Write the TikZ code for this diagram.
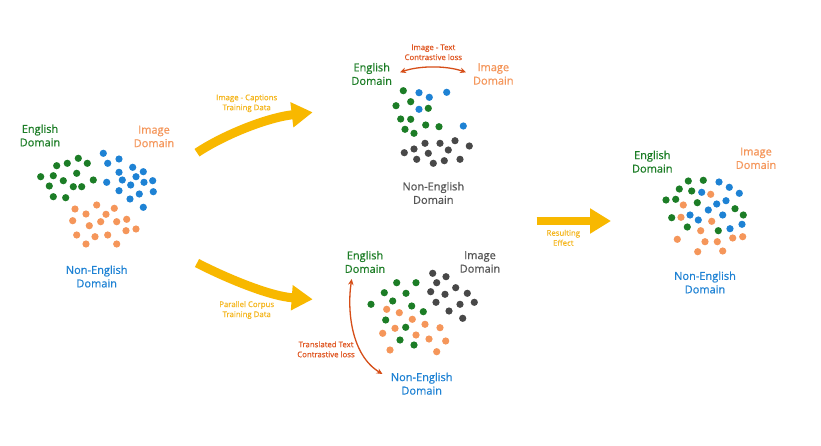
\documentclass[tikz,border=0pt]{standalone}
\usepackage{fontspec}
\setmainfont{Open Sans}[BoldFont={Open Sans},BoldFeatures={FakeBold=0.6}]
\usetikzlibrary{arrows.meta}
\definecolor{grn}{RGB}{28,125,38}
\definecolor{blu}{RGB}{30,130,212}
\definecolor{org}{RGB}{245,150,90}
\definecolor{gry}{RGB}{72,72,72}
\definecolor{gtx}{RGB}{85,85,85}
\definecolor{ylw}{RGB}{248,184,0}
\definecolor{ytx}{RGB}{245,182,30}
\definecolor{red}{RGB}{214,78,24}
\definecolor{rtx}{RGB}{224,88,36}
\tikzset{
  lbl/.style={align=center,inner sep=0pt,font=\fontsize{11}{13.5}\selectfont\bfseries},
  sml/.style={align=center,inner sep=0pt,font=\fontsize{7.8}{10}\selectfont\bfseries},
  bigarrow/.style={draw=ylw,line width=9pt,-{Triangle[length=21pt,width=24pt]}},
  redarrow/.style={draw=red,line width=1.3pt,{Stealth[length=6pt,width=5.5pt]}-{Stealth[length=6pt,width=5.5pt]}},
}
\begin{document}
\begin{tikzpicture}[x=1pt,y=-1pt]
\fill[white] (0,0) rectangle (821,446);
\useasboundingbox (0,0) rectangle (821,446);
\def\r{3.6pt}
% ---------------- left cluster
\foreach \x/\y in {78.3/158.3,67.3/163.3,56.7/165.7,87.3/163.3,40.7/176.7,53.3/175.7,76.7/173.3,63.3/180.7,49.3/186,73.3/186.7,81.7/186.7,93.3/180,53.3/196.7,65.7/197.7}
  \fill[grn] (\x,\y) circle[radius=\r];
\foreach \x/\y in {103.3/153.3,119/159,107.7/163.3,132.7/167.3,143.3/171.7,119/172.3,136/176.7,106.7/182.3,122.3/180,144/182.3,152.7/180.7,130.7/185,119/190.7,139.3/194,153.3/191.7,130/199,143.3/207.3}
  \fill[blu] (\x,\y) circle[radius=\r];
\foreach \x/\y in {96.7/205,75/209,114.3/208.3,86/214,106/214.3,72.7/220.7,100.7/221.7,116.7/221.7,126.7/219.3,89.3/225.7,126/230.7,136/229,76.7/235,95/236.7,107.7/235,86/244,116.7/244}
  \fill[org] (\x,\y) circle[radius=\r];
\node[lbl,text=grn] (l-en) at (40,135.5) {English\\Domain};
\node[lbl,text=org] (l-im) at (154,136.5) {Image\\Domain};
\node[lbl,text=blu] (l-ne) at (96.7,276.5) {Non-English\\Domain};
% ---------------- top cluster
\foreach \x/\y in {403.3/90.7,410.7/101.7,396/105.7,428.3/108.3,400.7/119,410.7/119.3,425.7/125,439/126.7,405/129.3,414/133.3}
  \fill[grn] (\x,\y) circle[radius=\r];
\foreach \x/\y in {419/92.7,429.3/97.3,446.7/92.3,419/109.3,463.3/126}
  \fill[blu] (\x,\y) circle[radius=\r];
\foreach \x/\y in {455/140.7,440/143.3,425/143.3,469.3/146,414/149,448.3/150,428.3/153.3,404.3/152.7,416.7/159.3,444.3/160.7,460/159.3,433.3/163.3}
  \fill[gry] (\x,\y) circle[radius=\r];
\node[lbl,text=grn] (t-en) at (371.7,74) {English\\Domain};
\node[lbl,text=org] (t-im) at (493.3,74) {Image\\Domain};
\node[lbl,text=gtx] (t-ne) at (433.3,193) {Non-English\\Domain};
\node[sml,text=rtx] (t-loss) at (433.3,52.3) {Image - Text\\Contrastive loss};
\coordinate (t-a) at (400,72.3);
\coordinate (t-b) at (466,72.3);
\draw[redarrow] (t-a) .. controls (420,65.5) and (446,65.5) .. (t-b);
% ---------------- bottom cluster
\foreach \x/\y in {396.7/282.7,416/282.7,384.3/292.7,406/293.3,392.7/301,371/304.3,411.7/306,423.3/311.7,385.7/320,405.7/327.3,400/340,414/345}
  \fill[grn] (\x,\y) circle[radius=\r];
\foreach \x/\y in {386.7/309.3,399.3/312.7,412.3/319.3,425/324.3,395/328.3,440/327.7,382.7/333.3,416/335,429/339,445.7/341,390/350,436.7/351.7}
  \fill[org] (\x,\y) circle[radius=\r];
\foreach \x/\y in {432.7/273.3,446/276.7,436.7/282.7,430.7/291.7,455.7/287.7,445/294.3,467.3/293.3,436/302.3,460/304.3,474.3/302.3,449/311,462.7/318.3}
  \fill[gry] (\x,\y) circle[radius=\r];
\node[lbl,text=grn] (b-en) at (365,262) {English\\Domain};
\node[lbl,text=gtx] (b-im) at (480,262) {Image\\Domain};
\node[lbl,text=blu] (b-ne) at (421.7,383.7) {Non-English\\Domain};
\node[sml,text=rtx] (b-loss) at (326,349.3) {Translated Text\\Contrastive loss};
\coordinate (b-a) at (351.7,279);
\coordinate (b-b) at (382.5,374);
\draw[redarrow] (b-a) .. controls (347,310) and (351,355) .. (b-b);
% ---------------- right cluster
\foreach \x/\y in {688.3/181,703.3/180.3,679.3/189,691.7/191,666/200,675.7/199.3,697.3/202.7,735/208.7,743.3/215,671.7/217.7,687.3/227,718.3/230.7}
  \fill[grn] (\x,\y) circle[radius=\r];
\foreach \x/\y in {719/182,729.3/187.3,739.3/193.3,701.7/192.3,726/200.7,716.7/204,708.3/210,722.7/215,690/215,698.3/220,730/228.7,742/224.3}
  \fill[blu] (\x,\y) circle[radius=\r];
\foreach \x/\y in {710.7/194.3,683.3/205,681/217.3,711.7/221.3,700.7/230.7,677.3/239.3,705/241.7,717.3/241.7,732.7/238,742.7/236.7,697.7/251.7,722.7/251}
  \fill[org] (\x,\y) circle[radius=\r];
\node[lbl,text=grn] (r-en) at (652.3,161.7) {English\\Domain};
\node[lbl,text=org] (r-im) at (756,158.3) {Image\\Domain};
\node[lbl,text=blu] (r-ne) at (705,282.5) {Non-English\\Domain};
% ---------------- yellow arrows
\coordinate (y1a) at (197,152.7);
\coordinate (y1b) at (312.7,112.3);
\draw[bigarrow] (y1a) .. controls (222,136) and (265,118) .. (y1b);
\node[sml,text=ytx] (y1l) at (246.7,103.3) {Image - Captions\\Training Data};
\coordinate (y2a) at (197,263);
\coordinate (y2b) at (312.7,299.3);
\draw[bigarrow] (y2a) .. controls (222,276) and (268,296) .. (y2b);
\node[sml,text=ytx] (y2l) at (246.7,310) {Parallel Corpus\\Training Data};
\coordinate (y3a) at (536.7,221);
\coordinate (y3b) at (611,221);
\draw[bigarrow,line width=8.5pt] (y3a) -- (y3b);
\node[sml,text=ytx] (y3l) at (563.3,237.8) {Resulting\\Effect};
\end{tikzpicture}
\end{document}
